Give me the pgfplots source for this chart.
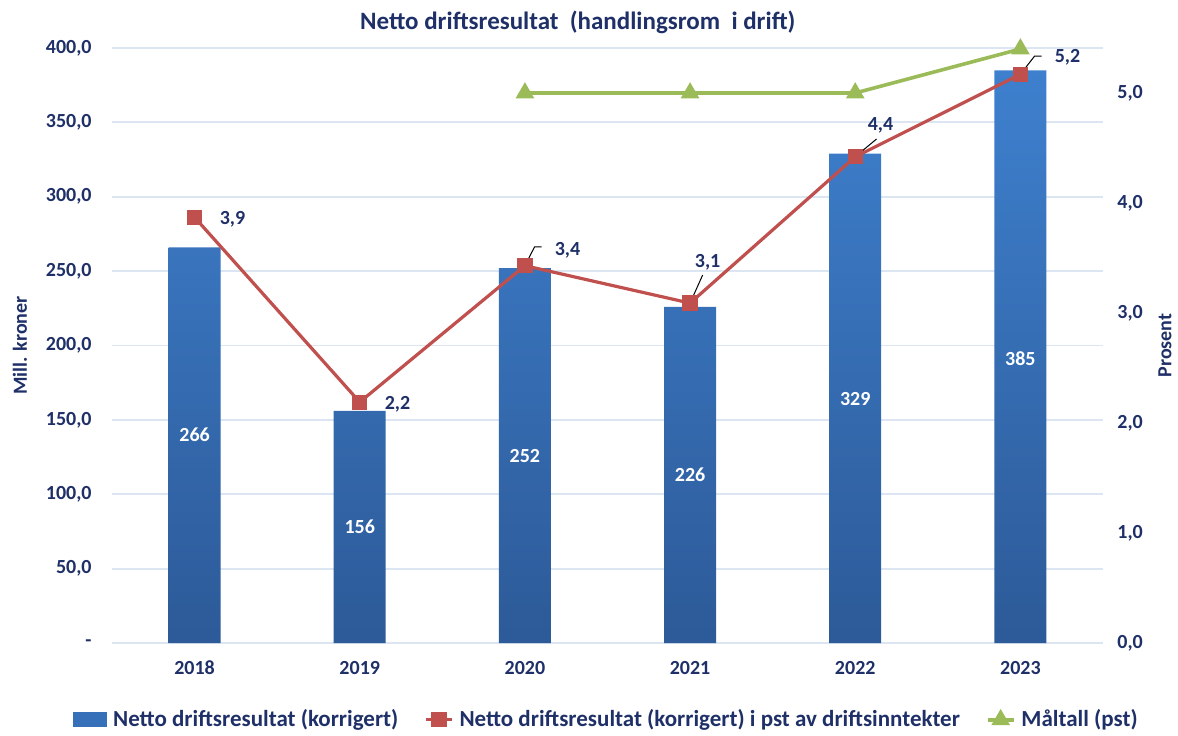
\documentclass[border=0pt]{standalone}
\usepackage{fontspec}
\setmainfont{Carlito}
\usepackage{pgfplots}
\pgfplotsset{compat=1.18}

\definecolor{navy}{HTML}{1F3068}
\definecolor{bartop}{HTML}{3E80CE}
\definecolor{barbot}{HTML}{2D5A98}
\definecolor{barmid}{HTML}{3670B8}
\definecolor{linered}{HTML}{C0504D}
\definecolor{linegreen}{HTML}{9BBB59}
\definecolor{gridc}{HTML}{DCE6F2}

\begin{document}
\begin{tikzpicture}
% page = whole chart area; the axis sits with its lower left corner at (0,0)
\useasboundingbox (-56pt,-46pt) rectangle (533pt,321.5pt);
\pgfplotsset{
  common/.style={
    scale only axis, width=495.5pt, height=297.5pt,
    xmin=-0.5, xmax=5.5,
    major tick length=0pt,
    axis line style={draw=none},
    tick label style={font=\bfseries\fontsize{10}{12}\selectfont, text=navy},
  },
  lineleg/.style={legend image code/.code={
    \draw[mark repeat=2, mark phase=2, ##1] plot coordinates {(0pt,0pt) (6.5pt,0pt) (13pt,0pt)};}},
}

% left axis: bars
\begin{axis}[common, name=main,
    ymin=0, ymax=400,
    ytick={0,50,...,400},
    yticklabels={-,{50,0},{100,0},{150,0},{200,0},{250,0},{300,0},{350,0},{400,0}},
    xtick={0,...,5},
    xticklabels={2018,2019,2020,2021,2022,2023},
    ymajorgrids, grid style={draw=gridc, line width=0.9pt},
    yticklabel style={anchor=east, inner sep=0pt, xshift=-10pt},
    xticklabel style={anchor=center, yshift=-12.5pt},
    ylabel={Mill. kroner},
    ylabel style={at={(axis description cs:-0.0928,0.5)}, anchor=center,
      font=\bfseries\fontsize{10}{12}\selectfont, text=navy},
    title={Netto driftsresultat\ \ (handlingsrom\ \ i drift)},
    title style={at={(axis description cs:0.470,1.0437)}, anchor=center, yshift=-6pt,
      font=\bfseries\fontsize{12.5}{15}\selectfont, text=navy},
  ]
\addplot[ybar, bar width=26pt, draw=none, top color=bartop, bottom color=barbot]
  coordinates {(0,266) (1,156) (2,252) (3,226) (4,329) (5,385)};
\addplot[draw=none, mark=none, nodes near coords, point meta=explicit symbolic,
    every node near coord/.style={anchor=center, text=white,
      font=\bfseries\fontsize{10}{12}\selectfont}]
  coordinates {(0,140)[266] (1,78)[156] (2,126)[252] (3,113)[226] (4,164)[329] (5,191)[385]};
\end{axis}

% right axis: percentages
\begin{axis}[common,
    ymin=0, ymax=5.409,
    xtick=\empty,
    ytick pos=right, yticklabel pos=right,
    ytick={0,...,5},
    yticklabels={{0,0},{1,0},{2,0},{3,0},{4,0},{5,0}},
    yticklabel style={anchor=west, inner sep=0pt, xshift=7pt},
    ylabel={Prosent},
    ylabel style={at={(axis description cs:1.0626,0.5)}, anchor=center, rotate=0,
      font=\bfseries\fontsize{10}{12}\selectfont, text=navy},
    legend columns=3,
    legend style={draw=none, fill=none, at={(0.5,-0.129)}, anchor=center,
      font=\bfseries\fontsize{11.5}{14}\selectfont, text=navy,
      /tikz/every even column/.append style={column sep=11pt},
      /tikz/every odd column/.append style={column sep=1pt}},
  ]
\addlegendimage{legend image code/.code={\fill[barmid] (0pt,-3.5pt) rectangle (16.5pt,3.5pt);}}
\addplot[linered, line width=1.6pt, mark=square*, mark size=3pt, lineleg]
  coordinates {(0,3.87) (1,2.19) (2,3.43) (3,3.09) (4,4.42) (5,5.17)};
\addplot[linegreen, line width=1.8pt, mark=triangle*, mark size=3.6pt, lineleg]
  coordinates {(2,5.0) (3,5.0) (4,5.0) (5,5.4)};
\legend{Netto driftsresultat (korrigert),
        Netto driftsresultat (korrigert) i pst av driftsinntekter,
        Måltall (pst)}

% data labels of the percentage line
\begin{scope}[every node/.style={font=\bfseries\fontsize{10}{12}\selectfont, text=navy}]
\node at (axis cs:0.230,3.85) {3,9};
\node at (axis cs:1.229,2.17) {2,2};
\node at (axis cs:2.258,3.573) {3,4};
\node at (axis cs:3.106,3.464) {3,1};
\node at (axis cs:4.153,4.709) {4,4};
\node at (axis cs:5.285,5.327) {5,2};
\end{scope}
\draw[black, line width=0.5pt] (axis cs:2,3.43) -- (axis cs:2.058,3.6) -- (axis cs:2.101,3.6);
\draw[black, line width=0.5pt] (axis cs:3,3.09) -- (axis cs:3.076,3.345);
\draw[black, line width=0.5pt] (axis cs:4,4.42) -- (axis cs:4.129,4.582);
\draw[black, line width=0.5pt] (axis cs:5,5.17) -- (axis cs:5.086,5.336) -- (axis cs:5.128,5.336);
\end{axis}
\end{tikzpicture}
\end{document}
